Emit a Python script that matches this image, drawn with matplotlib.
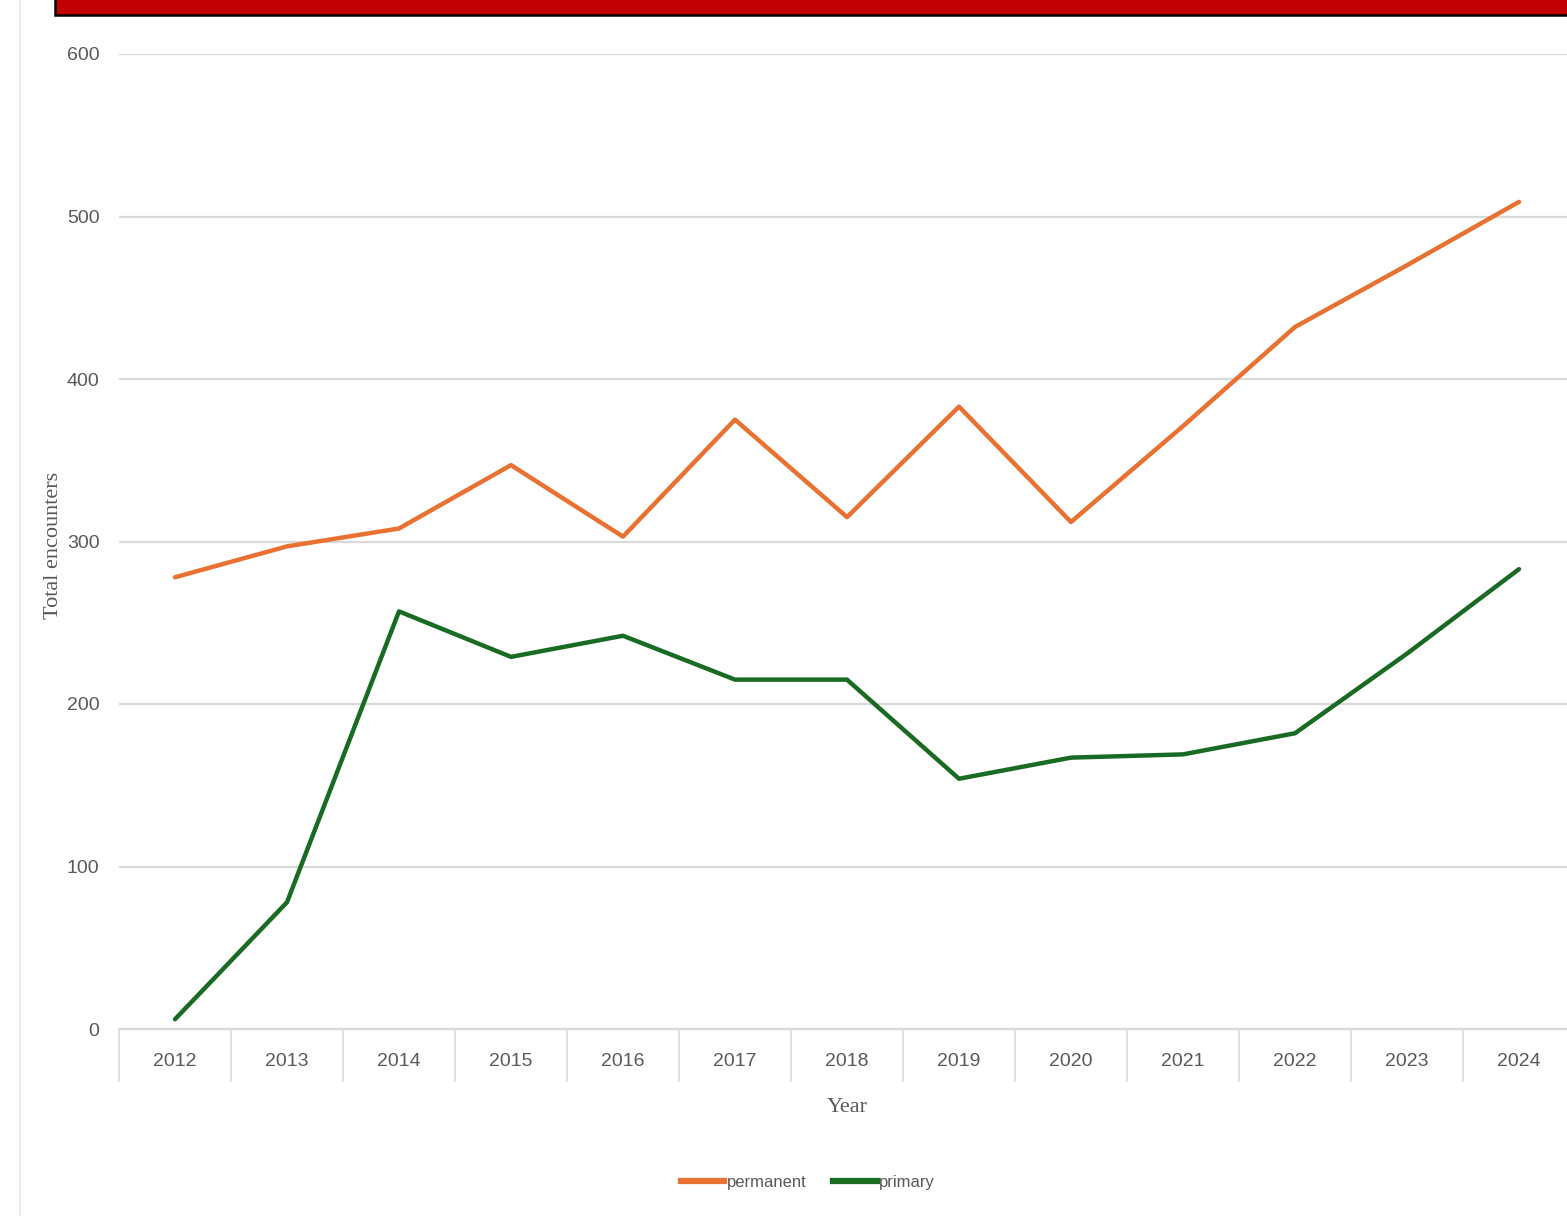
import matplotlib
matplotlib.use("Agg")
import matplotlib.pyplot as plt
from matplotlib.patches import Rectangle
from matplotlib.lines import Line2D
from matplotlib import font_manager

years = ["2012", "2013", "2014", "2015", "2016", "2017", "2018",
         "2019", "2020", "2021", "2022", "2023", "2024"]
permanent = [278, 297, 308, 347, 303, 375, 315, 383, 312, 371, 432, 470, 509]
primary = [6, 78, 257, 229, 242, 215, 215, 154, 167, 169, 182, 231, 283]
yticks = [0, 100, 200, 300, 400, 500, 600]

names = {f.name for f in font_manager.fontManager.ttflist}
narrow = "Liberation Sans Narrow" if "Liberation Sans Narrow" in names else "Liberation Sans"
serif = "Liberation Serif"

W, H = 1567, 1216
fig = plt.figure(figsize=(W / 100, H / 100), dpi=100)

def fx(px):
    return px / W

def fy(py):
    return 1 - py / H

left, right, top, bottom = 119, 1575, 54, 1029
ax = fig.add_axes([fx(left), fy(bottom), fx(right - left), fy(top) - fy(bottom)])

x = list(range(len(years)))
orange = "#E97132"
green = "#196B24"
ax.plot(x, permanent, color=orange, lw=3.2, solid_capstyle="round", label="permanent", zorder=3)
ax.plot(x, primary, color=green, lw=3.2, solid_capstyle="round", label="primary", zorder=3)

ax.set_xlim(-0.5, len(years) - 0.5)
ax.set_ylim(0, 600)
ax.set_yticks(yticks)
ax.set_yticklabels([str(v) for v in yticks])
ax.set_xticks(x)
ax.set_xticklabels(years)
ax.set_xticks([i - 0.5 for i in range(len(years) + 1)], minor=True)

ax.grid(axis="y", color="#d9d9d9", lw=1.6, zorder=0)
ax.set_axisbelow(True)
for s in ["top", "right", "left"]:
    ax.spines[s].set_visible(False)
ax.spines["bottom"].set_color("#d9d9d9")
ax.spines["bottom"].set_linewidth(1.6)

ax.tick_params(axis="x", which="major", length=0, pad=17, labelsize=14, labelcolor="#595959")
ax.tick_params(axis="x", which="minor", length=38, width=1.2, color="#d9d9d9")
ax.tick_params(axis="y", length=0, pad=14, labelsize=14, labelcolor="#595959")
for lab in ax.get_xticklabels() + ax.get_yticklabels():
    lab.set_fontfamily(narrow)

ax.set_xlabel("Year", fontfamily=serif, fontsize=16, color="#595959", labelpad=8)
fig.text(fx(54), fy(545), "Total encounters", rotation=90, ha="center", va="center",
         fontfamily=serif, fontsize=16, color="#595959")

handles = [Line2D([], [], color=orange, lw=4.5), Line2D([], [], color=green, lw=4.5)]
leg = fig.legend(handles, ["permanent", "primary"], loc="center",
                 bbox_to_anchor=(fx(808), fy(1182)), ncol=2, frameon=False,
                 handlelength=2.6, handletextpad=0.15, columnspacing=1.6,
                 prop={"family": narrow, "size": 12})
for t in leg.get_texts():
    t.set_color("#595959")

# red banner at top
fig.patches.append(Rectangle((fx(55), fy(15)), 1.0, 0.05, transform=fig.transFigure,
                             facecolor="#C00000", edgecolor="black", lw=1.8, zorder=5))
# faint left border line
fig.lines.append(Line2D([fx(20), fx(20)], [0, 1], transform=fig.transFigure,
                        color="#e6e6e6", lw=1.2))

fig.savefig("out.png", dpi=100)
